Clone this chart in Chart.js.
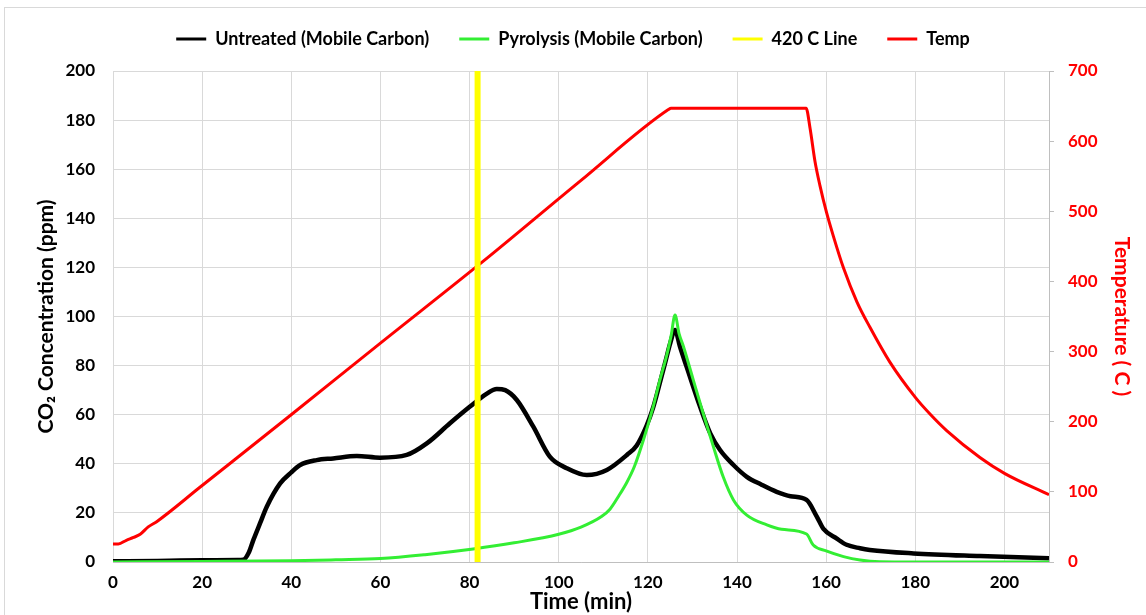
<!DOCTYPE html>
<html>
<head>
<meta charset="utf-8">
<script src="https://cdn.jsdelivr.net/npm/chart.js@4/dist/chart.umd.min.js"></script>
<style>
  html,body{margin:0;padding:0;background:#fff;overflow:hidden;}
  #frame{position:absolute;left:4px;top:7px;width:1160px;height:640px;border:1px solid #d9d9d9;box-sizing:border-box;}
  #c{position:absolute;left:0;top:0;}
</style>
</head>
<body>
<div id="frame"></div>
<canvas id="c" width="1146" height="615"></canvas>
<script>
// ---- Data ----
const untreatedTime = [0,10,15,20,28,29.2,30.5,31.5,33,34.5,37.5,40,42,45.7,49.4,54.7,59.9,65.9,70.4,75.6,80.1,83.8,86.1,88,90.6,94.3,98,101.8,106.3,110.8,115.3,117.5,119.7,121.2,122.7,124,125,126.1,127.2,128.7,131.7,134,136.2,139.2,142.2,145.5,148.9,152,155.6,157.9,159.4,162.4,164.6,167.6,169.8,179.6,194.5,210];
const untreatedCO2  = [0.3,0.4,0.6,0.7,0.8,0.9,4,9,15.8,22.5,32,36.5,39.5,41.5,42.2,43.2,42.5,43.6,48.3,56.5,63.3,68.5,70.5,70,66,55.1,42.9,38.2,35.4,37.5,43.6,47.5,55.5,63,73,82,89,94.5,87.7,79.5,63.3,52.4,45.6,39.5,34.7,31.5,28.6,26.8,25.3,18.5,13.5,9.5,7,5.6,4.9,3.5,2.4,1.5];

const pyrolysisTime = [0,20,40,50,60,70,80.8,90,100,105,109.6,111.5,113.5,115.3,117,119,121.2,122.7,124.2,125.2,126.1,127,128,130.2,132.4,134.7,136.9,139.2,142.2,146.7,150,155.6,157.1,160,163.9,167.6,172,180,210];
const pyrolysisCO2  = [0,0.2,0.5,0.9,1.4,3,5.3,7.8,11.3,14.2,18.5,21.5,27,32.5,39,49.7,63.3,74.1,84,92,100.6,93,87.7,74.1,60.6,47,34.7,25.3,19.1,15.1,13.3,11.4,6.9,4.5,2.2,0.8,0.1,0,0];

const lineTime = [81.8,81.8];
const lineCO2  = [0,200];

const tempTime = [0,1.2,3,4.6,6.1,7.9,9.8,19.5,39.9,60,83.5,104.8,124.6,125.2,155.5,156.4,157.5,158.6,160.1,161.6,163.9,166.9,169.8,174.3,180.1,183.3,187.1,194.5,200.1,210];
const tempC    = [25.7,25.7,31,35,39.5,50,57.5,106.5,209.6,312,431,543,645,647,647,618,571,537,498,465,419,371,335,285,234,211,187,149,126,96];

const xTickValues = [0,20,40,60,80,100,120,140,160,180,200];
const yTicksStep = 20, y2TicksStep = 100;

const pts = (xs, ys) => xs.map((x, i) => ({x: x, y: ys[i]}));

const FONT = 'Lato, "Open Sans", sans-serif';

// extra space below the legend so the plot starts where the reference does
const legendSpacer = {
  id: 'legendSpacer',
  beforeLayout(chart) {
    const lg = chart.legend;
    if (lg && !lg._spaced) {
      const f = lg.fit.bind(lg);
      lg.fit = function () { f(); this.height += 13; };
      lg._spaced = true;
    }
  }
};

const ctx = document.getElementById('c').getContext('2d');
new Chart(ctx, {
  type: 'line',
  plugins: [legendSpacer],
  data: {
    datasets: [
      {label: 'Untreated (Mobile Carbon)', data: pts(untreatedTime, untreatedCO2), borderColor: '#000000', backgroundColor: '#000000', borderWidth: 4.5, yAxisID: 'y', order: 2, cubicInterpolationMode: 'monotone'},
      {label: 'Pyrolysis (Mobile Carbon)', data: pts(pyrolysisTime, pyrolysisCO2), borderColor: '#33ee33', backgroundColor: '#33ee33', borderWidth: 3, yAxisID: 'y', order: 1, cubicInterpolationMode: 'monotone'},
      {label: '420 C Line', data: pts(lineTime, lineCO2), borderColor: '#ffff00', backgroundColor: '#ffff00', borderWidth: 6, yAxisID: 'y', order: 0},
      {label: 'Temp', data: pts(tempTime, tempC), borderColor: '#ff0000', backgroundColor: '#ff0000', borderWidth: 3, yAxisID: 'y2', order: 3, cubicInterpolationMode: 'monotone'}
    ]
  },
  options: {
    responsive: false,
    animation: false,
    devicePixelRatio: 1,
    elements: {point: {radius: 0, hoverRadius: 0}},
    layout: {padding: {top: 0, left: 0, right: 0, bottom: 0}},
    plugins: {
      tooltip: {enabled: false},
      legend: {
        position: 'top',
        align: 'center',
        labels: {
          color: '#000',
          font: {family: FONT, size: 18, weight: 'bold'},
          boxWidth: 30,
          boxHeight: 3,
          padding: 30,
          sort: (a, b) => a.datasetIndex - b.datasetIndex,
          generateLabels: (chart) => {
            const items = Chart.defaults.plugins.legend.labels.generateLabels(chart);
            items.forEach(it => { it.lineWidth = 0; it.fillStyle = it.strokeStyle; });
            return items;
          }
        }
      }
    },
    scales: {
      x: {
        type: 'linear', min: 0, max: 210,
        ticks: {color: '#000', font: {family: FONT, size: 17, weight: 'bold'}, padding: 10, maxRotation: 0},
        afterBuildTicks: (axis) => { axis.ticks = xTickValues.map(v => ({value: v})); },
        grid: {color: '#d9d9d9', drawTicks: false},
        border: {color: '#bfbfbf'},
        title: {display: true, text: 'Time (min)', color: '#000', font: {family: FONT, size: 22, weight: 'bold'}, padding: {top: 0, bottom: 0}},
        afterFit: (s) => { s.height = 53; }
      },
      y: {
        type: 'linear', position: 'left', min: 0, max: 200,
        ticks: {stepSize: yTicksStep, color: '#000', font: {family: FONT, size: 17, weight: 'bold'}, padding: 18},
        grid: {color: '#d9d9d9', drawTicks: false},
        border: {display: false},
        title: {display: true, text: 'CO\u2082 Concentration (ppm)', color: '#000', font: {family: FONT, size: 21, weight: 'bold'}, padding: {top: 34, bottom: 0}},
        afterFit: (s) => { s.width = 113; }
      },
      y2: {
        type: 'linear', position: 'right', min: 0, max: 700,
        ticks: {stepSize: y2TicksStep, color: '#ff0000', font: {family: FONT, size: 17, weight: 'bold'}, padding: 14},
        grid: {drawOnChartArea: false, color: '#bfbfbf', tickLength: 5},
        border: {color: '#bfbfbf'},
        title: {display: true, text: 'Temperature ( C )', color: '#ff0000', font: {family: FONT, size: 21, weight: 'bold'}, padding: {top: 12, bottom: 0}},
        afterFit: (s) => { s.width = 97; }
      }
    }
  }
});
</script>
</body>
</html>
